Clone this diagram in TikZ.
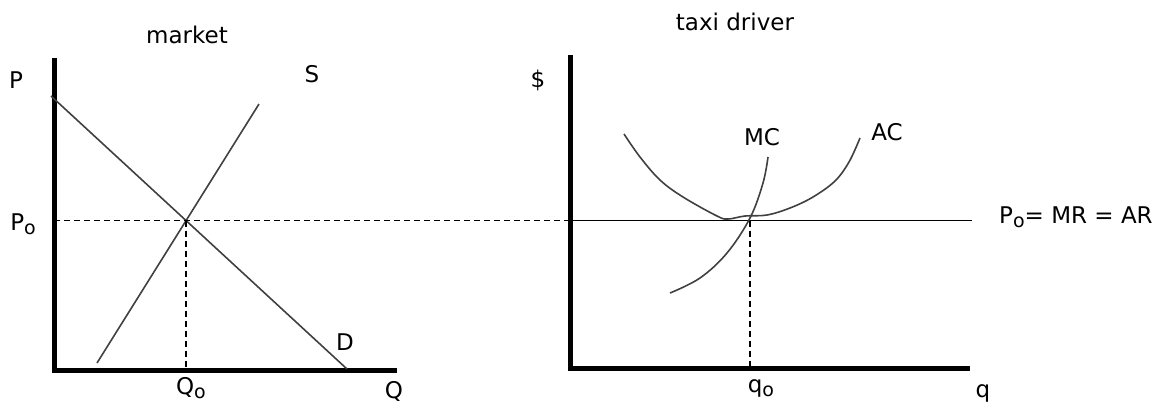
\documentclass[tikz,border=0pt]{standalone}
\usepackage{fontspec}
\setmainfont{DejaVu Sans}
\newcommand\lowo{\raisebox{-4pt}{\fontsize{19}{19}\selectfont o}}
\begin{document}
\begin{tikzpicture}[x=1pt,y=-1pt,
  axis/.style={line width=5pt, line join=miter},
  curve/.style={line width=1.6pt, draw=black!75},
  hline/.style={line width=1.5pt, draw=black},
  guide/.style={line width=1.5pt, dash pattern=on 6pt off 4pt},
  lbl/.style={font=\fontsize{23}{27}\selectfont, inner sep=0pt, anchor=base, text=black},
]
\useasboundingbox (0,0) rectangle (1157,408);
% ---- left: market
\coordinate (LT) at (54,58);
\coordinate (LO) at (54,370.5);
\coordinate (LR) at (397,370.5);
\draw[axis] (LT) -- (LO) -- (LR);
\coordinate (D1) at (51,96);
\coordinate (D2) at (347,369);
\coordinate (S1) at (97,363);
\coordinate (S2) at (259,104);
\draw[curve] (D1) -- (D2);
\draw[curve] (S1) -- (S2);
\coordinate (E) at (intersection of D1--D2 and S1--S2);
% ---- right: taxi driver
\coordinate (RT) at (570,55);
\coordinate (RO) at (570,368.5);
\coordinate (RR) at (970,368.5);
\draw[axis] (RT) -- (RO) -- (RR);
\coordinate (PL) at (RO |- E);
\coordinate (PR) at (972,0 |- E);
\draw[guide] (LO |- E) -- (PL);
\draw[hline] (PL) -- (PR);
\draw[guide] (E) -- (E |- LO);
% cost curves
\draw[curve] plot[smooth, tension=0.6] coordinates {(670,293) (700,278) (727,253) (750,218) (763,183) (768,157)};
\draw[curve] plot[smooth, tension=0.6] coordinates {(624,134) (640,157) (660,180) (683,197) (717,216) (728,219) (745,216) (767,215) (790,208) (813,197) (835,181) (849,162) (860,138)};
\coordinate (Q) at (750,0 |- E);
\draw[guide] (Q) -- (Q |- RO);
% ---- labels
\node[lbl] (tm) at (187,43) {market};
\node[lbl] (tP) at (16,88) {P};
\node[lbl] (tP0) at (23,230) {P\lowo};
\node[lbl] (tS) at (312,82) {S};
\node[lbl] (tD) at (345,350) {D};
\node[lbl] (tQ0) at (191,394) {Q\lowo};
\node[lbl] (tQ) at (394,398) {Q};
\node[lbl] (tt) at (735,30) {taxi driver};
\node[lbl] (tdol) at (538,87) {\$};
\node[lbl] (tMC) at (762,145) {MC};
\node[lbl] (tAC) at (887,140) {AC};
\node[lbl] (tq0) at (761,392) {q\lowo};
\node[lbl] (tq) at (983,397) {q};
\node[lbl, anchor=base west] (tPMR) at (999,223) {P\lowo= MR = AR};
\end{tikzpicture}
\end{document}
